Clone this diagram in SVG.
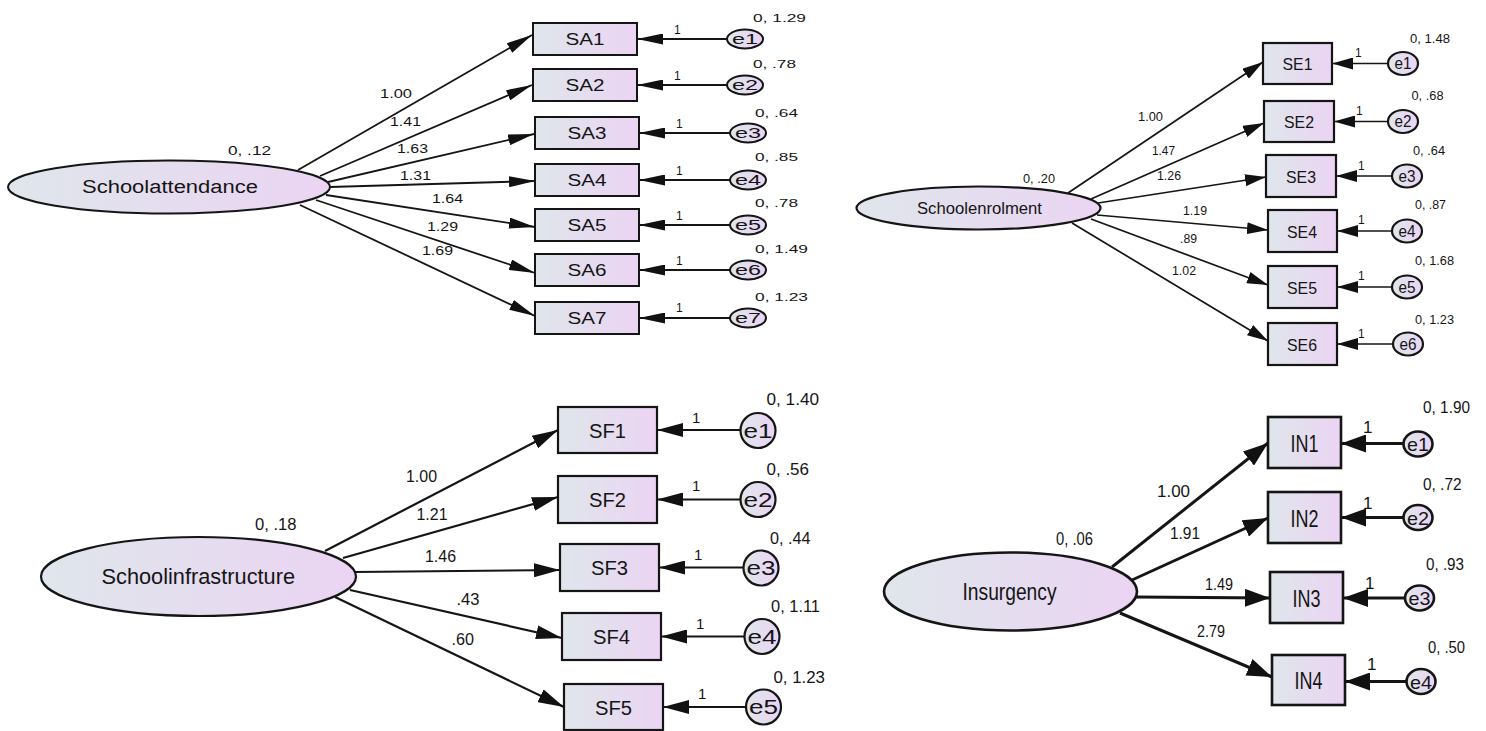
<svg xmlns="http://www.w3.org/2000/svg" width="1486" height="731" viewBox="0 0 1486 731">
<defs>
<linearGradient id="g" x1="0" y1="0" x2="1" y2="0">
<stop offset="0" stop-color="#dfe6eb"/>
<stop offset="1" stop-color="#ebd4f3"/>
</linearGradient>
<marker id="mTL" markerUnits="userSpaceOnUse" markerWidth="26" markerHeight="11" viewBox="0 0 26 11" refX="26" refY="5.5" orient="auto"><path d="M0,0 L26,5.5 L0,11 z" fill="#111"/></marker>
<marker id="mTR" markerUnits="userSpaceOnUse" markerWidth="21" markerHeight="12" viewBox="0 0 21 12" refX="21" refY="6" orient="auto"><path d="M0,0 L21,6 L0,12 z" fill="#111"/></marker>
<marker id="mBL" markerUnits="userSpaceOnUse" markerWidth="26" markerHeight="14" viewBox="0 0 26 14" refX="26" refY="7" orient="auto"><path d="M0,0 L26,7 L0,14 z" fill="#111"/></marker>
<marker id="mBR" markerUnits="userSpaceOnUse" markerWidth="25" markerHeight="18" viewBox="0 0 25 18" refX="25" refY="9" orient="auto"><path d="M0,0 L25,9 L0,18 z" fill="#111"/></marker>
</defs>
<style>
text{font-family:"Liberation Sans",Arial,sans-serif;fill:#151515}
.n{fill:url(#g);stroke:#151515}
.tl .n{stroke-width:2}
.tr .n{stroke-width:2.2}
.bl .n{stroke-width:2.2}
.br .n{stroke-width:2.6}
.c line{stroke:#151515;fill:none}
.ctl line{stroke-width:1.8;marker-end:url(#mTL)}
.ctr line{stroke-width:1.7;marker-end:url(#mTR)}
.cbl line{stroke-width:2.2;marker-end:url(#mBL)}
.cbr line{stroke-width:3;marker-end:url(#mBR)}
.f11{font-size:11px}.f12{font-size:12px}.f13{font-size:13px}.f14{font-size:14px}.f15{font-size:15px}.f16{font-size:16px}.f17{font-size:17px}.f18{font-size:18px}.f19{font-size:19px}.f20{font-size:20px}.f21{font-size:21.5px}.f23{font-size:23px}.f24{font-size:24px}
</style>
<rect width="1486" height="731" fill="#fff"/>

<!-- ===== Connectors ===== -->
<g id="connectors" class="c">
<g class="ctl">
<line x1="298" y1="170" x2="532" y2="35"/>
<line x1="320" y1="176" x2="532" y2="85"/>
<line x1="328" y1="182" x2="534" y2="134"/>
<line x1="330" y1="187" x2="535" y2="181"/>
<line x1="326" y1="195" x2="535" y2="227"/>
<line x1="316" y1="200" x2="535" y2="273"/>
<line x1="300" y1="205" x2="535" y2="316"/>
<line x1="727" y1="39" x2="637" y2="39"/>
<line x1="727" y1="85" x2="637" y2="85"/>
<line x1="730" y1="133" x2="639" y2="133"/>
<line x1="730" y1="180" x2="639" y2="180"/>
<line x1="730" y1="225" x2="639" y2="225"/>
<line x1="730" y1="270" x2="639" y2="270"/>
<line x1="730" y1="318" x2="639" y2="318"/>
</g>
<g class="ctr">
<line x1="1068" y1="193" x2="1263" y2="62"/>
<line x1="1091" y1="199" x2="1264" y2="123"/>
<line x1="1098" y1="203" x2="1266" y2="177"/>
<line x1="1097" y1="215" x2="1268" y2="230"/>
<line x1="1091" y1="219" x2="1268" y2="285"/>
<line x1="1072" y1="223" x2="1268" y2="341"/>
<line x1="1388" y1="63.5" x2="1332" y2="63.5"/>
<line x1="1388" y1="121.5" x2="1334" y2="121.5"/>
<line x1="1392" y1="176" x2="1336" y2="176"/>
<line x1="1392" y1="231" x2="1337" y2="231"/>
<line x1="1392" y1="287" x2="1337" y2="287"/>
<line x1="1393" y1="344" x2="1337" y2="344"/>
</g>
<g class="cbl">
<line x1="325" y1="551" x2="558" y2="430"/>
<line x1="343" y1="558" x2="558" y2="497"/>
<line x1="355" y1="572" x2="560" y2="570"/>
<line x1="350" y1="590" x2="562" y2="638"/>
<line x1="335" y1="597" x2="564" y2="707"/>
<line x1="740.5" y1="430" x2="657" y2="430"/>
<line x1="740.5" y1="499.5" x2="657" y2="499.5"/>
<line x1="743.5" y1="567.5" x2="659" y2="567.5"/>
<line x1="744.5" y1="636.5" x2="661" y2="636.5"/>
<line x1="745.5" y1="707" x2="663" y2="707"/>
</g>
<g class="cbr">
<line x1="1112" y1="567" x2="1268" y2="443"/>
<line x1="1132" y1="580" x2="1268" y2="518"/>
<line x1="1136" y1="597" x2="1270" y2="598"/>
<line x1="1120" y1="613" x2="1272" y2="677"/>
<line x1="1404" y1="443.5" x2="1341" y2="443.5"/>
<line x1="1404" y1="517.5" x2="1341" y2="517.5"/>
<line x1="1405" y1="598" x2="1343" y2="598"/>
<line x1="1407" y1="681.5" x2="1345" y2="681.5"/>
</g>
</g>

<!-- ===== Connector labels ===== -->
<g id="labels">
<g class="f13">
<text x="380" y="98" textLength="32" lengthAdjust="spacingAndGlyphs">1.00</text>
<text x="390" y="126" textLength="31" lengthAdjust="spacingAndGlyphs">1.41</text>
<text x="397" y="153" textLength="31" lengthAdjust="spacingAndGlyphs">1.63</text>
<text x="400" y="180" textLength="31" lengthAdjust="spacingAndGlyphs">1.31</text>
<text x="432" y="203" textLength="31" lengthAdjust="spacingAndGlyphs">1.64</text>
<text x="427" y="231" textLength="31" lengthAdjust="spacingAndGlyphs">1.29</text>
<text x="422" y="255" textLength="31" lengthAdjust="spacingAndGlyphs">1.69</text>
</g>
<g class="f12">
<text x="674" y="34">1</text>
<text x="674" y="80">1</text>
<text x="676" y="128">1</text>
<text x="676" y="175">1</text>
<text x="676" y="220">1</text>
<text x="676" y="265">1</text>
<text x="676" y="312">1</text>
</g>
<g class="f12">
<text x="1138" y="120.5" textLength="25" lengthAdjust="spacingAndGlyphs">1.00</text>
<text x="1152" y="155" textLength="23" lengthAdjust="spacingAndGlyphs">1.47</text>
<text x="1157" y="180" textLength="24" lengthAdjust="spacingAndGlyphs">1.26</text>
<text x="1183" y="215" textLength="24" lengthAdjust="spacingAndGlyphs">1.19</text>
<text x="1180" y="243" textLength="17" lengthAdjust="spacingAndGlyphs">.89</text>
<text x="1172" y="275" textLength="24" lengthAdjust="spacingAndGlyphs">1.02</text>
<text x="1355" y="56.5">1</text>
<text x="1356" y="115">1</text>
<text x="1358" y="169.5">1</text>
<text x="1358" y="223.5">1</text>
<text x="1358" y="279.5">1</text>
<text x="1358" y="337.5">1</text>
</g>
<g class="f16">
<text x="406" y="482" textLength="31" lengthAdjust="spacingAndGlyphs">1.00</text>
<text x="416.5" y="520" textLength="31" lengthAdjust="spacingAndGlyphs">1.21</text>
<text x="425" y="562" textLength="31" lengthAdjust="spacingAndGlyphs">1.46</text>
<text x="456.5" y="605" textLength="23" lengthAdjust="spacingAndGlyphs">.43</text>
<text x="451.5" y="645" textLength="22.5" lengthAdjust="spacingAndGlyphs">.60</text>
</g>
<g class="f15">
<text x="692" y="422.5">1</text>
<text x="692" y="490.5">1</text>
<text x="694" y="560">1</text>
<text x="696" y="628.5">1</text>
<text x="698" y="698.5">1</text>
</g>
<g class="f17">
<text x="1157" y="497" textLength="33" lengthAdjust="spacingAndGlyphs">1.00</text>
<text x="1170" y="539" textLength="30" lengthAdjust="spacingAndGlyphs">1.91</text>
<text x="1205" y="590" textLength="28" lengthAdjust="spacingAndGlyphs">1.49</text>
<text x="1197" y="636.5" textLength="28" lengthAdjust="spacingAndGlyphs">2.79</text>
</g>
<g class="f17">
<text x="1363" y="433">1</text>
<text x="1363" y="508.5">1</text>
<text x="1365" y="588.5">1</text>
<text x="1367" y="670">1</text>
</g>
</g>

<!-- ===== Top-left: Schoolattendance ===== -->
<g class="tl">
<g id="Schoolattendance">
<ellipse class="n" cx="169" cy="187" rx="161" ry="26.5"/>
<text class="f18" x="82" y="193" textLength="176" lengthAdjust="spacingAndGlyphs">Schoolattendance</text>
<text class="f13" x="228" y="155" textLength="43" lengthAdjust="spacingAndGlyphs">0, .12</text>
</g>
<g id="SA1"><rect class="n" x="533" y="23" width="104" height="32"/><text class="f16" x="565.5" y="45" textLength="39" lengthAdjust="spacingAndGlyphs">SA1</text></g>
<g id="SA2"><rect class="n" x="533" y="69" width="104" height="32"/><text class="f16" x="565.5" y="91" textLength="39" lengthAdjust="spacingAndGlyphs">SA2</text></g>
<g id="SA3"><rect class="n" x="535" y="117" width="104" height="32"/><text class="f16" x="567.5" y="139" textLength="39" lengthAdjust="spacingAndGlyphs">SA3</text></g>
<g id="SA4"><rect class="n" x="535" y="164" width="104" height="32"/><text class="f16" x="567.5" y="186" textLength="39" lengthAdjust="spacingAndGlyphs">SA4</text></g>
<g id="SA5"><rect class="n" x="535" y="209" width="104" height="32"/><text class="f16" x="567.5" y="231" textLength="39" lengthAdjust="spacingAndGlyphs">SA5</text></g>
<g id="SA6"><rect class="n" x="535" y="254" width="104" height="32"/><text class="f16" x="567.5" y="276" textLength="39" lengthAdjust="spacingAndGlyphs">SA6</text></g>
<g id="SA7"><rect class="n" x="535" y="302" width="104" height="32"/><text class="f16" x="567.5" y="324" textLength="39" lengthAdjust="spacingAndGlyphs">SA7</text></g>
<g id="tl-e1"><ellipse class="n" cx="745" cy="39" rx="18" ry="9.5"/><text class="f14" x="732" y="44" textLength="26" lengthAdjust="spacingAndGlyphs">e1</text><text class="f11" x="753" y="22" textLength="53" lengthAdjust="spacingAndGlyphs">0, 1.29</text></g>
<g id="tl-e2"><ellipse class="n" cx="745" cy="85" rx="18" ry="9.5"/><text class="f14" x="732" y="90" textLength="26" lengthAdjust="spacingAndGlyphs">e2</text><text class="f11" x="753" y="68" textLength="43" lengthAdjust="spacingAndGlyphs">0, .78</text></g>
<g id="tl-e3"><ellipse class="n" cx="748" cy="133" rx="18" ry="9.5"/><text class="f14" x="735" y="138" textLength="26" lengthAdjust="spacingAndGlyphs">e3</text><text class="f11" x="755" y="116.5" textLength="43" lengthAdjust="spacingAndGlyphs">0, .64</text></g>
<g id="tl-e4"><ellipse class="n" cx="748" cy="180" rx="18" ry="9.5"/><text class="f14" x="735" y="185" textLength="26" lengthAdjust="spacingAndGlyphs">e4</text><text class="f11" x="755" y="161" textLength="43" lengthAdjust="spacingAndGlyphs">0, .85</text></g>
<g id="tl-e5"><ellipse class="n" cx="748" cy="225" rx="18" ry="9.5"/><text class="f14" x="735" y="230" textLength="26" lengthAdjust="spacingAndGlyphs">e5</text><text class="f11" x="755" y="206.5" textLength="43" lengthAdjust="spacingAndGlyphs">0, .78</text></g>
<g id="tl-e6"><ellipse class="n" cx="748" cy="270" rx="18" ry="9.5"/><text class="f14" x="735" y="275" textLength="26" lengthAdjust="spacingAndGlyphs">e6</text><text class="f11" x="755" y="253" textLength="53" lengthAdjust="spacingAndGlyphs">0, 1.49</text></g>
<g id="tl-e7"><ellipse class="n" cx="748" cy="318" rx="18" ry="9.5"/><text class="f14" x="735" y="323" textLength="26" lengthAdjust="spacingAndGlyphs">e7</text><text class="f11" x="755" y="300.5" textLength="53" lengthAdjust="spacingAndGlyphs">0, 1.23</text></g>
</g>

<!-- ===== Top-right: Schoolenrolment ===== -->
<g class="tr">
<g id="Schoolenrolment">
<ellipse class="n" cx="978.5" cy="208" rx="122" ry="21.5"/>
<text class="f16" x="917" y="214" textLength="125" lengthAdjust="spacingAndGlyphs">Schoolenrolment</text>
<text class="f13" x="1023" y="182.5" textLength="32" lengthAdjust="spacingAndGlyphs">0, .20</text>
</g>
<g id="SE1"><rect class="n" x="1263" y="43" width="69" height="41"/><text class="f17" x="1282.5" y="70" textLength="30" lengthAdjust="spacingAndGlyphs">SE1</text></g>
<g id="SE2"><rect class="n" x="1264" y="101" width="70" height="41"/><text class="f17" x="1284" y="128" textLength="30" lengthAdjust="spacingAndGlyphs">SE2</text></g>
<g id="SE3"><rect class="n" x="1266" y="155" width="70" height="42"/><text class="f17" x="1286" y="182.5" textLength="30" lengthAdjust="spacingAndGlyphs">SE3</text></g>
<g id="SE4"><rect class="n" x="1268" y="210" width="69" height="42"/><text class="f17" x="1287" y="237.5" textLength="30" lengthAdjust="spacingAndGlyphs">SE4</text></g>
<g id="SE5"><rect class="n" x="1268" y="266" width="69" height="42"/><text class="f17" x="1287" y="293.5" textLength="30" lengthAdjust="spacingAndGlyphs">SE5</text></g>
<g id="SE6"><rect class="n" x="1268" y="323" width="69" height="42"/><text class="f17" x="1287" y="350.5" textLength="30" lengthAdjust="spacingAndGlyphs">SE6</text></g>
<g id="tr-e1"><ellipse class="n" cx="1403" cy="63.5" rx="15" ry="11.5"/><text class="f16" x="1394.5" y="69" textLength="17" lengthAdjust="spacingAndGlyphs">e1</text><text class="f13" x="1410" y="42.5" textLength="40" lengthAdjust="spacingAndGlyphs">0, 1.48</text></g>
<g id="tr-e2"><ellipse class="n" cx="1403" cy="121.5" rx="15" ry="11.5"/><text class="f16" x="1394.5" y="127" textLength="17" lengthAdjust="spacingAndGlyphs">e2</text><text class="f13" x="1411.5" y="99.5" textLength="32" lengthAdjust="spacingAndGlyphs">0, .68</text></g>
<g id="tr-e3"><ellipse class="n" cx="1407" cy="176" rx="15" ry="11.5"/><text class="f16" x="1398.5" y="181.5" textLength="17" lengthAdjust="spacingAndGlyphs">e3</text><text class="f13" x="1413" y="154.5" textLength="32" lengthAdjust="spacingAndGlyphs">0, .64</text></g>
<g id="tr-e4"><ellipse class="n" cx="1407" cy="231" rx="15" ry="11.5"/><text class="f16" x="1398.5" y="236.5" textLength="17" lengthAdjust="spacingAndGlyphs">e4</text><text class="f13" x="1415" y="208.5" textLength="31" lengthAdjust="spacingAndGlyphs">0, .87</text></g>
<g id="tr-e5"><ellipse class="n" cx="1407" cy="287" rx="15" ry="11.5"/><text class="f16" x="1398.5" y="292.5" textLength="17" lengthAdjust="spacingAndGlyphs">e5</text><text class="f13" x="1415" y="265" textLength="39" lengthAdjust="spacingAndGlyphs">0, 1.68</text></g>
<g id="tr-e6"><ellipse class="n" cx="1408" cy="344" rx="15" ry="11.5"/><text class="f16" x="1399.5" y="349.5" textLength="17" lengthAdjust="spacingAndGlyphs">e6</text><text class="f13" x="1415" y="323.5" textLength="39" lengthAdjust="spacingAndGlyphs">0, 1.23</text></g>
</g>

<!-- ===== Bottom-left: Schoolinfrastructure ===== -->
<g class="bl">
<g id="Schoolinfrastructure">
<ellipse class="n" cx="198.5" cy="576.5" rx="157.5" ry="39.5"/>
<text class="f21" x="101.5" y="584" textLength="193.5" lengthAdjust="spacingAndGlyphs">Schoolinfrastructure</text>
<text class="f17" x="255" y="530" textLength="41.5" lengthAdjust="spacingAndGlyphs">0, .18</text>
</g>
<g id="SF1"><rect class="n" x="558" y="407" width="99" height="46"/><text class="f20" x="589" y="437.5" textLength="37" lengthAdjust="spacingAndGlyphs">SF1</text></g>
<g id="SF2"><rect class="n" x="558" y="476" width="99" height="47"/><text class="f20" x="589" y="507" textLength="37" lengthAdjust="spacingAndGlyphs">SF2</text></g>
<g id="SF3"><rect class="n" x="560" y="544" width="99" height="47"/><text class="f20" x="591" y="575" textLength="37" lengthAdjust="spacingAndGlyphs">SF3</text></g>
<g id="SF4"><rect class="n" x="562" y="613" width="99" height="47"/><text class="f20" x="593" y="644" textLength="37" lengthAdjust="spacingAndGlyphs">SF4</text></g>
<g id="SF5"><rect class="n" x="564" y="684" width="99" height="46"/><text class="f20" x="595" y="714.5" textLength="37" lengthAdjust="spacingAndGlyphs">SF5</text></g>
<g id="bl-e1"><circle class="n" cx="758" cy="430.5" r="17.5"/><text class="f20" x="743.5" y="437.5" textLength="29" lengthAdjust="spacingAndGlyphs">e1</text><text class="f17" x="766.5" y="405" textLength="52.5" lengthAdjust="spacingAndGlyphs">0, 1.40</text></g>
<g id="bl-e2"><circle class="n" cx="758" cy="499.5" r="17.5"/><text class="f20" x="743.5" y="506.5" textLength="29" lengthAdjust="spacingAndGlyphs">e2</text><text class="f17" x="766.5" y="474.5" textLength="42.5" lengthAdjust="spacingAndGlyphs">0, .56</text></g>
<g id="bl-e3"><circle class="n" cx="761" cy="568" r="17.5"/><text class="f20" x="746.5" y="575" textLength="29" lengthAdjust="spacingAndGlyphs">e3</text><text class="f17" x="770" y="543.5" textLength="40.5" lengthAdjust="spacingAndGlyphs">0, .44</text></g>
<g id="bl-e4"><circle class="n" cx="762" cy="636.5" r="17.5"/><text class="f20" x="747.5" y="643.5" textLength="29" lengthAdjust="spacingAndGlyphs">e4</text><text class="f17" x="771" y="611.5" textLength="49" lengthAdjust="spacingAndGlyphs">0, 1.11</text></g>
<g id="bl-e5"><circle class="n" cx="763.5" cy="707" r="17.5"/><text class="f20" x="749" y="714" textLength="29" lengthAdjust="spacingAndGlyphs">e5</text><text class="f17" x="773.5" y="682.5" textLength="51.5" lengthAdjust="spacingAndGlyphs">0, 1.23</text></g>
</g>

<!-- ===== Bottom-right: Insurgency ===== -->
<g class="br">
<g id="Insurgency">
<ellipse class="n" cx="1010.5" cy="591.5" rx="126.5" ry="39"/>
<text class="f24" x="962.5" y="600" textLength="94" lengthAdjust="spacingAndGlyphs">Insurgency</text>
<text class="f18" x="1056" y="545" textLength="37" lengthAdjust="spacingAndGlyphs">0, .06</text>
</g>
<g id="IN1"><rect class="n" x="1268" y="417" width="73" height="51"/><text class="f23" x="1290.5" y="451.5" textLength="28" lengthAdjust="spacingAndGlyphs">IN1</text></g>
<g id="IN2"><rect class="n" x="1268" y="492" width="73" height="51"/><text class="f23" x="1290.5" y="526.5" textLength="28" lengthAdjust="spacingAndGlyphs">IN2</text></g>
<g id="IN3"><rect class="n" x="1270" y="572" width="73" height="51"/><text class="f23" x="1292.5" y="606.5" textLength="28" lengthAdjust="spacingAndGlyphs">IN3</text></g>
<g id="IN4"><rect class="n" x="1272" y="655" width="73" height="50"/><text class="f23" x="1294.5" y="689" textLength="28" lengthAdjust="spacingAndGlyphs">IN4</text></g>
<g id="br-e1"><ellipse class="n" cx="1418" cy="444" rx="14.5" ry="12.5"/><text class="f19" x="1407" y="451" textLength="22" lengthAdjust="spacingAndGlyphs">e1</text><text class="f16" x="1423" y="413" textLength="47" lengthAdjust="spacingAndGlyphs">0, 1.90</text></g>
<g id="br-e2"><ellipse class="n" cx="1418" cy="517.5" rx="14.5" ry="12.5"/><text class="f19" x="1407" y="524.5" textLength="22" lengthAdjust="spacingAndGlyphs">e2</text><text class="f16" x="1423" y="490" textLength="38.5" lengthAdjust="spacingAndGlyphs">0, .72</text></g>
<g id="br-e3"><ellipse class="n" cx="1419.5" cy="598" rx="14.5" ry="12.5"/><text class="f19" x="1408.5" y="605" textLength="22" lengthAdjust="spacingAndGlyphs">e3</text><text class="f16" x="1426" y="570" textLength="38" lengthAdjust="spacingAndGlyphs">0, .93</text></g>
<g id="br-e4"><ellipse class="n" cx="1421" cy="681.5" rx="14.5" ry="12.5"/><text class="f19" x="1410" y="688.5" textLength="22" lengthAdjust="spacingAndGlyphs">e4</text><text class="f16" x="1428" y="652.5" textLength="37" lengthAdjust="spacingAndGlyphs">0, .50</text></g>
</g>
</svg>
